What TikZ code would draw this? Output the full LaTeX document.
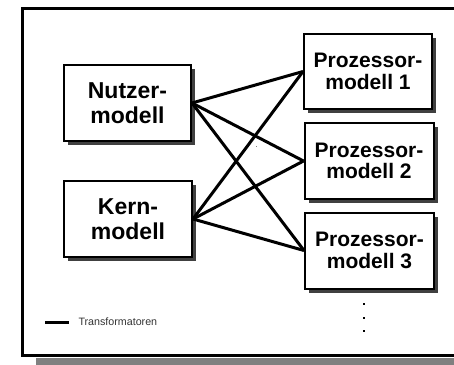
\documentclass[tikz,border=0pt]{standalone}
\usepackage{fontspec}
\setmainfont{Liberation Sans}
\usetikzlibrary{shadows}
\tikzset{
  model/.style={draw=black, line width=2pt, fill=white, inner sep=0pt, align=center,
    drop shadow={shadow xshift=4pt, shadow yshift=-4pt, fill=black!75, opacity=1}},
  bigtext/.style={font=\fontsize{23}{24.5}\selectfont\bfseries},
  proctext/.style={font=\fontsize{21}{21.7}\selectfont\bfseries},
  link/.style={line width=3pt},
  dotmark/.style={fill=black, inner sep=0pt, minimum size=2pt, draw=none}
}
\begin{document}
\begin{tikzpicture}[x=1pt, y=-1pt]
  \useasboundingbox (0,0) rectangle (454,364);
  \clip (0,0) rectangle (454,364);
  % outer frame and its shadow
  \fill[black!50] (36,358.3) rectangle (470,370);
  \draw[line width=3pt] (470,8.3) -- (22.5,8.3) -- (22.5,355.3) -- (470,355.3);

  % model boxes
  \node[model, bigtext, minimum width=127pt, minimum height=76pt] (nutzer) at (127.5,103) {Nutzer-\\modell};
  \node[model, bigtext, minimum width=128pt, minimum height=76pt] (kern) at (128,219) {Kern-\\modell};
  \node[model, proctext, minimum width=128pt, minimum height=75pt] (p1) at (368,71.5) {Prozessor-\\modell 1};
  \node[model, proctext, minimum width=129pt, minimum height=76pt] (p2) at (369,161) {Prozessor-\\modell 2};
  \node[model, proctext, minimum width=129pt, minimum height=76pt] (p3) at (369.5,250.5) {Prozessor-\\modell 3};

  % transformers
  \foreach \src in {nutzer,kern}
    \foreach \dst in {p1,p2,p3}
      \draw[link] (\src.east) -- (\dst.west);

  % stray mark between the links
  \node[fill=black!50, inner sep=0pt, minimum size=1pt] (speck) at (256.7,146) {};

  % continuation dots
  \node[dotmark] (d1) at (363.5,303.5) {};
  \node[dotmark] (d2) at (363.5,317.7) {};
  \node[dotmark] (d3) at (363.5,331.3) {};

  % legend
  \coordinate (la) at (45,322.3);
  \coordinate (lb) at (69,322.3);
  \draw[line width=3pt] (la) -- (lb);
  \node[anchor=base west, inner sep=0pt, font=\fontsize{10.7}{12}\selectfont, text=black!80] (legend) at (78.3,325.5) {Transformatoren};
\end{tikzpicture}
\end{document}
